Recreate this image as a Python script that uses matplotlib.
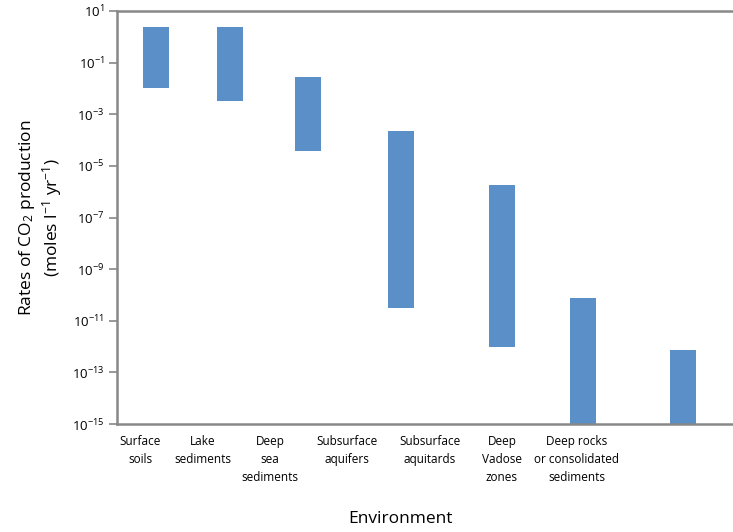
import matplotlib
matplotlib.use("Agg")
import matplotlib.pyplot as plt
import numpy as np

# Data (log10 of rates, moles l^-1 yr^-1)
environments = ["Surface\nsoils", "Lake\nsediments", "Deep\nsea\nsediments",
                "Subsurface\naquifers", "Subsurface\naquitards",
                "Deep\nVadose\nzones", "Deep rocks\nor consolidated\nsediments"]
log_high = [0.38, 0.38, -1.56, -3.65, -5.74, -10.12, -12.14]
log_low = [-1.98, -2.49, -4.43, -10.51, -12.02, -15.0, -15.0]
ytick_exps = [1, -1, -3, -5, -7, -9, -11, -13, -15]

# Layout (axis units)
bar_pos = [156, 230, 307.5, 401, 502, 583, 683]
label_pos = [140, 203, 270, 347, 430, 502, 577]

plt.rcParams['font.family'] = ['Open Sans', 'DejaVu Sans']
plt.rcParams['mathtext.fontset'] = 'custom'
plt.rcParams['mathtext.rm'] = 'Open Sans'
plt.rcParams['mathtext.it'] = 'Open Sans'
plt.rcParams['mathtext.default'] = 'rm'

fig = plt.figure(figsize=(7.33, 5.32), dpi=100)
ax = fig.add_axes([117/733, 1-424/532, 1-117/733, (424-11)/532])

high = 10.0 ** np.array(log_high)
low = 10.0 ** np.array(log_low)
ax.bar(bar_pos, high - low, bottom=low, width=26, color="#5b8fc8", edgecolor="none")

ax.set_yscale("log")
ax.set_ylim(1e-15, 1e1)
ax.set_xlim(117, 733)
ax.set_yticks([10.0 ** e for e in ytick_exps])
ax.set_yticklabels([r"$10^{%d}$" % e for e in ytick_exps], fontsize=9.5)
ax.yaxis.set_minor_locator(matplotlib.ticker.NullLocator())
ax.tick_params(axis="y", length=6, width=1.2, color="#888888", pad=3)

ax.set_xticks(label_pos)
ax.set_xticklabels(environments, fontsize=8.5, linespacing=1.5)
ax.tick_params(axis="x", length=0, pad=8)

for s in ["left", "top", "bottom"]:
    ax.spines[s].set_color("#888888")
    ax.spines[s].set_linewidth(1.8)
ax.spines["right"].set_visible(False)

ax.set_ylabel("Rates of CO$_2$ production\n(moles l$^{-1}$ yr$^{-1}$)", fontsize=12.5,
              linespacing=1.15, labelpad=6)
fig.text(400/733, 1-519/532, "Environment", fontsize=12.5, ha="center", va="center")

fig.savefig("out.png", dpi=100)
